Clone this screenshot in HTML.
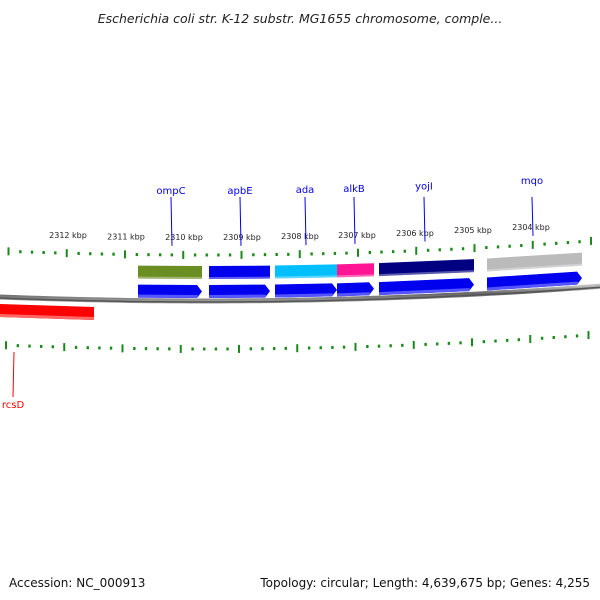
<!DOCTYPE html>
<html><head><meta charset="utf-8"><style>
body{margin:0;background:#fff}
svg{display:block}
text{font-family:"DejaVu Sans","Liberation Sans",sans-serif}
</style></head><body>
<svg id="map" width="600" height="600" viewBox="0 0 600 600">
<defs>
<linearGradient id="bb" x1="0" y1="0" x2="0" y2="1"><stop offset="0" stop-color="#bbb"/><stop offset="0.5" stop-color="#666"/><stop offset="1" stop-color="#999"/></linearGradient>
</defs>
<text x="300" y="23" text-anchor="middle" font-size="12.5" font-style="italic" fill="#222">Escherichia coli str. K-12 substr. MG1655 chromosome, comple...</text>
<g id="g"></g>
<text x="9" y="587" font-size="12" fill="#111">Accession: NC_000913</text>
<text x="590" y="587" font-size="12" fill="#111" text-anchor="end">Topology: circular; Length: 4,639,675 bp; Genes: 4,255</text>
</svg>
<script>
const kbpLabels=[2312,2311,2310,2309,2308,2307,2306,2305,2304];
const kbpX=[68,126,184,242,300,357,415,473,531];
const geneNames=["ompC","apbE","ada","alkB","yojI","mqo"];
const geneStart=[138,209,275,337,379,487];
const geneEnd=[202,270,337,374,474,582];
const geneColors=["#6b8e23","#0000ee","#00bfff","#ff1493","#000080","#bbbbbb"];
const labelX=[171,240,305,354,424,532];
const ns="http://www.w3.org/2000/svg";
const g=document.getElementById('g');
function curve(x){return -9.47e-5*x*x+0.0389*x;}
function mk(tag,attrs,name){const e=document.createElementNS(ns,tag);for(const k in attrs)e.setAttribute(k,attrs[k]);


g.appendChild(e);return e;}
// backbone
let d="";for(let x=0;x<=600;x+=10){d+=(x?"L":"M")+x+" "+(297+curve(x)).toFixed(1);}
mk('path',{d:d,stroke:"url(#bb)","stroke-width":5,fill:"none"},'backbone');
mk('path',{d:d,stroke:"#555","stroke-width":1.5,fill:"none",transform:"translate(0,1)"},'backbone-shadow');
// ticks
function ticks(off,start,name,big){
 for(let i=0;i<60;i++){const x=start+i*11.65;if(x>598)break;const c=off+curve(x);const major=(i%5===0);
 mk('rect',{x:x-1,y:major?c-4:c-1.5,width:major?2:2.4,height:major?8:3,fill:"#1a8a1a"},name+(major?'-major-tick':'-minor-tick'));}
}
ticks(251,8.5,'outer-ruler');ticks(345,6,'inner-ruler');
kbpLabels.forEach((v,i)=>{const t=mk('text',{x:kbpX[i],y:238+curve(kbpX[i])-2,"font-size":8,"text-anchor":"middle",fill:"#222"},'kbp-label');t.textContent=v+" kbp";});
// genes
geneNames.forEach((n,i)=>{
 const s=geneStart[i],e=geneEnd[i];const ys=264+curve(s),ye=264+curve(e);
 mk('polygon',{points:`${s},${ys-2} ${e},${ye-2} ${e},${ye+11} ${s},${ys+11}`,fill:geneColors[i]},'feature-'+n);
 mk('polygon',{points:`${s},${ys+9} ${e},${ye+9} ${e},${ye+11} ${s},${ys+11}`,fill:"#fff",opacity:0.35},'feature-highlight');
 const as=284+curve(s),ae=284+curve(e);
 mk('polygon',{points:`${s},${as-3} ${e-5},${ae-3} ${e},${ae+3.5} ${e-5},${ae+10} ${s},${as+10}`,fill:"#0000ee"},'gene-arrow-'+n);
 mk('polygon',{points:`${s},${as+7} ${e-5},${ae+7} ${e-3},${ae+8} ${e-5},${ae+10} ${s},${as+10}`,fill:"#5555ff"},'gene-arrow-shade');
 const lx=labelX[i];
 mk('line',{x1:lx,y1:197,x2:lx+1,y2:246+curve(lx)-4,stroke:"#0000ee","stroke-width":1},'label-line-'+n);
 const t=mk('text',{x:lx,y:194+curve(lx)-4,"font-size":10,"text-anchor":"middle",fill:"#0000ee"},'gene-label-'+n);t.textContent=n;
});
// rcsD
mk('polygon',{points:"0,304 94,307 94,320 0,317",fill:"#ff0000"},'feature-rcsD');
mk('polygon',{points:"0,314 94,317 94,320 0,317",fill:"#ff6666"},'feature-rcsD-shade');
mk('line',{x1:14,y1:352,x2:13,y2:397,stroke:"#ff0000","stroke-width":1},'label-line-rcsD');
const rt=mk('text',{x:13,y:408,"font-size":10,"text-anchor":"middle",fill:"#ff0000"},'gene-label-rcsD');rt.textContent="rcsD";
</script>
</body></html>
